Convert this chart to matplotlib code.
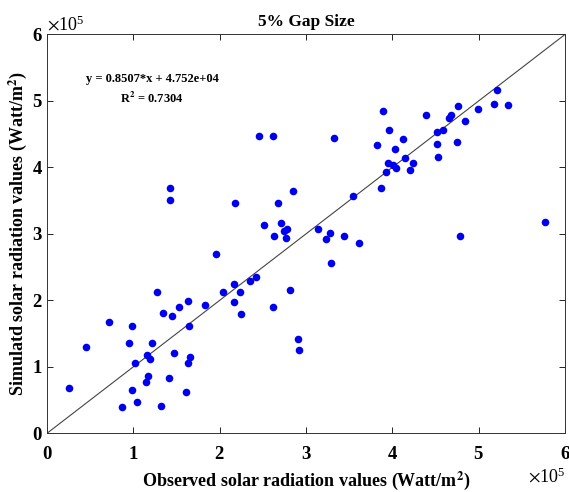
import matplotlib
matplotlib.use("Agg")
import matplotlib.pyplot as plt
from matplotlib.ticker import ScalarFormatter

plt.rcParams["font.family"] = ["Liberation Serif", "DejaVu Serif"]
plt.rcParams["mathtext.fontset"] = "stix"

# observed / simulated solar radiation (Watt/m^2)
observed = [
    0.258, 0.448, 0.722, 0.981, 0.953, 1.023, 0.981, 0.865, 1.046, 1.274,
    1.220, 1.158, 1.193, 1.173, 1.147, 1.324, 1.340, 1.451, 1.532, 1.637,
    1.645, 1.471, 1.653, 1.630, 1.413, 1.607, 1.830, 1.958, 2.039, 2.163,
    2.166, 2.239, 2.247, 2.351, 2.421, 2.621, 2.633, 2.815, 2.911, 2.923,
    2.452, 2.621, 1.421, 1.421, 2.181, 2.672, 2.853, 2.517, 2.711, 2.745,
    2.777, 2.768, 5.209, 5.181, 5.336, 4.996, 4.761, 4.683, 4.660, 4.836,
    4.387, 3.889, 3.956, 4.591, 4.523, 4.127, 3.321, 3.828, 4.523, 4.749,
    4.031, 4.150, 4.527, 3.948, 4.011, 4.040, 4.240, 4.208, 3.923, 3.871,
    3.548, 3.139, 3.282, 3.234, 3.444, 5.772, 4.784, 3.290, 3.617,
]
simulated = [
    0.677, 1.303, 1.670, 1.614, 1.363, 1.062, 0.647, 0.396, 0.471, 2.121,
    1.354, 1.183, 1.118, 0.867, 0.772, 0.411, 1.810, 1.765, 1.896, 1.995,
    1.614, 1.204, 1.152, 1.053, 0.827, 0.621, 1.926, 2.702, 2.130, 2.251,
    1.980, 2.130, 1.799, 2.296, 2.356, 1.905, 2.961, 2.156, 1.419, 1.258,
    4.477, 4.477, 3.686, 3.510, 3.469, 3.460, 3.650, 3.126, 3.159, 3.043,
    3.069, 2.931, 5.169, 4.954, 4.944, 4.879, 4.920, 4.781, 4.748, 4.695,
    4.781, 4.849, 4.567, 4.567, 4.536, 4.428, 4.438, 4.340, 4.349, 4.385,
    4.277, 4.146, 4.157, 4.064, 4.033, 3.984, 4.064, 3.954, 3.928, 3.693,
    3.575, 3.078, 3.018, 2.916, 2.961, 3.179, 2.973, 2.562, 2.858,
]
observed = [v * 1e5 for v in observed]
simulated = [v * 1e5 for v in simulated]

axis_max = 6e5
fit_text = "y = 0.8507*x + 4.752e+04"
r2_text = "R$^{\\mathbf{2}}$ = 0.7304"

fig = plt.figure(figsize=(5.69, 4.92), dpi=100)
ax = fig.add_axes([0.0826, 0.1193, 0.9104, 0.8107])

ax.plot([0, axis_max], [0, axis_max], color="#444444", linewidth=0.8)
ax.scatter(observed, simulated, s=30, color="#0000f0", zorder=3, linewidths=0)

ax.set_xlim(0, axis_max)
ax.set_ylim(0, axis_max)
ax.set_xticks([i * 1e5 for i in range(7)])
ax.set_yticks([i * 1e5 for i in range(7)])

for axis in (ax.xaxis, ax.yaxis):
    fmt = ScalarFormatter(useMathText=True)
    fmt.set_powerlimits((5, 5))
    axis.set_major_formatter(fmt)
    axis.get_offset_text().set_fontsize(13)

ax.tick_params(direction="in", top=True, right=True, length=4, width=0.6,
               labelsize=13.5, pad=3)
ax.tick_params(axis="x", pad=9)
for lab in ax.get_xticklabels() + ax.get_yticklabels():
    lab.set_fontweight("bold")
for sp in ax.spines.values():
    sp.set_linewidth(0.7)
    sp.set_color("#333333")

ax.set_title("5% Gap Size", fontsize=12.5, fontweight="bold", pad=6)
ax.set_xlabel("Observed solar radiation values (Watt/m$^{\\mathbf{2}}$)",
              fontsize=13, fontweight="bold", labelpad=5)
ax.set_ylabel("Simulatd solar radiation values (Watt/m$^{\\mathbf{2}}$)",
              fontsize=13, fontweight="bold", labelpad=2)

ax.text(1.22e5, 5.33e5, fit_text, ha="center", va="center",
        fontsize=9, fontweight="bold")
ax.text(1.22e5, 5.03e5, r2_text, ha="center", va="center",
        fontsize=9, fontweight="bold")

fig.savefig("out.png", dpi=100)
